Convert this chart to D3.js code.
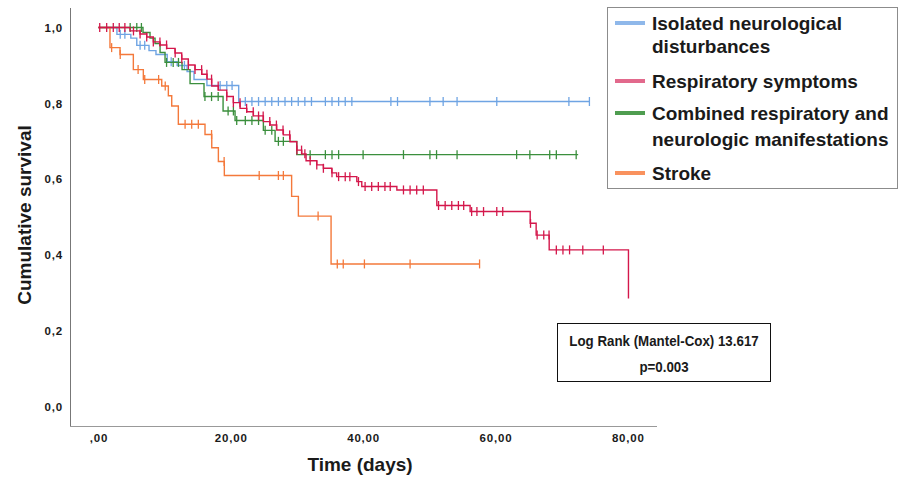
<!DOCTYPE html>
<html>
<head>
<meta charset="utf-8">
<script src="https://cdn.jsdelivr.net/npm/d3@7"></script>
<style>
	body { margin: 0; background: #fff; }
	text { font-family: "Liberation Sans", Arial, sans-serif; font-weight: bold; fill: #1a1a1a; }
</style>
</head>
<body>
<script>
// Kaplan-Meier steps: [time in days, survival after the drop]
const neuroSteps = [[0, 1], [2.8, 0.982], [4.9, 0.972], [5.8, 0.953], [7.65, 0.939], [8.7, 0.929], [10.4, 0.910], [11.9, 0.900], [13.4, 0.884], [14.45, 0.863], [16.4, 0.847], [21.2, 0.805]];
const neuroEnd = 74.2;
const neuroCensor = [3.3, 4.0, 6.3, 7.0, 11.0, 13.0, 18.4, 19.4, 20.2, 22.2, 23.2, 24.2, 25.2, 26.2, 27.2, 28.2, 29.2, 30.2, 31.2, 32.2, 34.3, 35.3, 36.3, 37.3, 38.3, 44.2, 45.2, 50.1, 52.1, 54.2, 60.2, 71.1, 74.2];

const respSteps = [[0, 1], [4.78, 0.991], [6.29, 0.983], [7.3, 0.975], [8.3, 0.962], [9.31, 0.954], [10.32, 0.945], [11.58, 0.933], [12.59, 0.917], [13.59, 0.901], [14.6, 0.889], [15.62, 0.877], [16.42, 0.864], [17.13, 0.846], [18.13, 0.835], [19.4, 0.818], [20.39, 0.802], [21.41, 0.787], [22.42, 0.778], [23.42, 0.767], [24.93, 0.752], [25.94, 0.743], [26.95, 0.730], [27.95, 0.717], [28.96, 0.699], [29.98, 0.677], [30.73, 0.667], [31.38, 0.649], [33.0, 0.638], [34.0, 0.629], [35.27, 0.617], [36.0, 0.607], [39.05, 0.594], [39.8, 0.581], [45.1, 0.572], [51.14, 0.531], [56.17, 0.515], [65.25, 0.484], [66.15, 0.453], [68.12, 0.414], [80.1, 0.286]];
const respEnd = 80.1;
const respCensor = [0.2, 1.25, 2.25, 3.15, 4.0, 5.3, 6.3, 7.3, 8.3, 9.3, 10.3, 11.6, 12.6, 13.6, 14.6, 15.6, 16.4, 17.1, 18.1, 19.4, 20.4, 21.4, 22.4, 23.4, 24.2, 24.9, 25.9, 26.9, 27.9, 28.9, 30.0, 30.7, 31.2, 32.0, 33.0, 34.0, 35.3, 36.3, 37.3, 38.0, 39.3, 40.3, 41.3, 42.3, 43.3, 44.1, 46.1, 47.1, 48.1, 49.1, 51.4, 52.4, 53.4, 54.4, 55.2, 56.4, 57.2, 58.2, 60.2, 61.1, 65.3, 66.3, 67.3, 68.1, 69.2, 70.2, 71.2, 73.2, 76.3];

const combSteps = [[0, 1], [6.74, 0.987], [7.8, 0.972], [8.56, 0.958], [9.32, 0.934], [10.07, 0.908], [12.64, 0.889], [13.85, 0.852], [15.96, 0.818], [18.84, 0.780], [20.65, 0.755], [24.93, 0.729], [26.7, 0.700], [29.98, 0.665]];
const combEnd = 72.5;
const combCensor = [4.8, 5.8, 6.5, 10.3, 11.3, 12.1, 16.1, 17.1, 18.1, 19.6, 20.4, 20.9, 22.2, 23.2, 24.2, 25.2, 26.2, 27.2, 27.95, 32.0, 34.3, 35.3, 36.3, 40.0, 46.1, 50.1, 51.1, 54.2, 63.2, 65.2, 68.2, 69.2, 72.2];

const strokeSteps = [[0, 1], [1.75, 0.947], [3.27, 0.929], [5.28, 0.889], [6.79, 0.863], [9.57, 0.846], [10.57, 0.820], [11.08, 0.793], [12.08, 0.745], [16.11, 0.718], [17.13, 0.683], [18.13, 0.647], [19.03, 0.610], [29.2, 0.555], [30.22, 0.503], [35.16, 0.377]];
const strokeEnd = 57.6;
const strokeCensor = [2.0, 3.3, 6.0, 7.0, 9.1, 10.1, 13.1, 14.1, 15.1, 17.1, 19.0, 24.3, 27.2, 27.95, 33.2, 36.1, 37.0, 40.2, 47.1, 57.6];

const groupNames = ['Isolated neurological|disturbances', 'Respiratory symptoms', 'Combined respiratory and|neurologic manifestations', 'Stroke'];
const lineColors = ['#6fa4e3', '#d4174b', '#3b8f3d', '#f4793b'];
const legendColors = ['#8fb8ea', '#e2698c', '#4f9d50', '#f9925e'];

const xTicks = [0, 20, 40, 60, 80];
const xTickLabels = [',00', '20,00', '40,00', '60,00', '80,00'];
const yTicks = [0, 0.2, 0.4, 0.6, 0.8, 1.0];
const yTickLabels = ['0,0', '0,2', '0,4', '0,6', '0,8', '1,0'];

const statLines = ['Log Rank (Mantel-Cox) 13.617', 'p=0.003'];

const width = 901, height = 477;

const svg = d3.select('body')
	.append('svg')
	.attr('width', width)
	.attr('height', height);

const x = d3.scaleLinear().domain([0, 80]).range([98.4, 627.8]);
const y = d3.scaleLinear().domain([0, 1]).range([407, 27.5]);

// frame lines of the plot (left and bottom only, like SPSS)
svg.append('line')
	.attr('x1', 70.5).attr('x2', 70.5)
	.attr('y1', 8).attr('y2', 426)
	.attr('stroke', '#777').attr('stroke-width', 1);
svg.append('line')
	.attr('x1', 70).attr('x2', 657)
	.attr('y1', 426.5).attr('y2', 426.5)
	.attr('stroke', '#999').attr('stroke-width', 1);

// axes
const xAxis = svg.append('g')
	.attr('transform', 'translate(0,429)')
	.call(d3.axisBottom(x).tickValues(xTicks).tickSize(0).tickPadding(5)
		.tickFormat((d, i) => xTickLabels[i]));
xAxis.select('.domain').remove();
xAxis.selectAll('text')
	.style('font-size', '11.5px')
	.style('letter-spacing', '0.8px')
	.style('font-family', '"Liberation Sans", Arial, sans-serif')
	.style('font-weight', 'bold')
	.attr('fill', '#1a1a1a');

const yAxis = svg.append('g')
	.attr('transform', 'translate(63,0)')
	.call(d3.axisLeft(y).tickValues(yTicks).tickSize(0).tickPadding(0)
		.tickFormat((d, i) => yTickLabels[i]));
yAxis.select('.domain').remove();
yAxis.selectAll('text')
	.style('font-size', '11.5px')
	.style('letter-spacing', '0.8px')
	.style('font-family', '"Liberation Sans", Arial, sans-serif')
	.style('font-weight', 'bold')
	.attr('fill', '#1a1a1a');

// axis titles
svg.append('text')
	.attr('x', 360).attr('y', 471)
	.attr('text-anchor', 'middle')
	.style('font-size', '19px')
	.text('Time (days)');
svg.append('text')
	.attr('transform', 'translate(31,215) rotate(-90)')
	.attr('text-anchor', 'middle')
	.style('font-size', '19px')
	.text('Cumulative survival');

// survival value at time t
function survAt(steps, t) {
	let s = steps[0][1];
	steps.forEach((p) => {
		if (p[0] <= t) s = p[1];
	});
	return s;
}

const groups = [
	{ steps: neuroSteps, end: neuroEnd, censor: neuroCensor, color: lineColors[0] },
	{ steps: respSteps, end: respEnd, censor: respCensor, color: lineColors[1] },
	{ steps: combSteps, end: combEnd, censor: combCensor, color: lineColors[2] },
	{ steps: strokeSteps, end: strokeEnd, censor: strokeCensor, color: lineColors[3] }
];

const stepLine = d3.line()
	.x(d => x(d[0]))
	.y(d => y(d[1]))
	.curve(d3.curveStepAfter);

// draw order: blue, green, orange, red on top
[0, 2, 3, 1].forEach((gi) => {
	const g = groups[gi];
	let pts = g.steps.slice();
	const last = pts[pts.length - 1];
	if (g.end > last[0]) pts.push([g.end, last[1]]);

	const layer = svg.append('g');
	layer.append('path')
		.attr('d', stepLine(pts))
		.attr('fill', 'none')
		.attr('stroke', g.color)
		.attr('stroke-width', 1.4);

	layer.selectAll('line')
		.data(g.censor)
		.enter()
		.append('line')
		.attr('x1', d => x(d))
		.attr('x2', d => x(d))
		.attr('y1', d => y(survAt(g.steps, d)) - 4.5)
		.attr('y2', d => y(survAt(g.steps, d)) + 4.5)
		.attr('stroke', g.color)
		.attr('stroke-width', 1.3);
});

// legend
const legend = svg.append('g');
legend.append('rect')
	.attr('x', 607.5).attr('y', 7.5)
	.attr('width', 290).attr('height', 181)
	.attr('fill', '#fff')
	.attr('stroke', '#8c8c8c').attr('stroke-width', 1);

const legendRows = [
	{ swatch: 23, base: [30, 53] },
	{ swatch: 81, base: [88] },
	{ swatch: 113, base: [120, 146] },
	{ swatch: 173, base: [180] }
];

groupNames.forEach((name, i) => {
	const row = legendRows[i];
	legend.append('line')
		.attr('x1', 615).attr('x2', 645)
		.attr('y1', row.swatch).attr('y2', row.swatch)
		.attr('stroke', legendColors[i])
		.attr('stroke-width', 4);
	name.split('|').forEach((part, j) => {
		legend.append('text')
			.attr('x', 652).attr('y', row.base[j])
			.style('font-size', '19px')
			.text(part);
	});
});

// log rank box
svg.append('rect')
	.attr('x', 557.5).attr('y', 323.5)
	.attr('width', 213).attr('height', 58)
	.attr('fill', '#fff')
	.attr('stroke', '#111').attr('stroke-width', 1);

// slightly condensed text, as in the original
statLines.forEach((t, i) => {
	svg.append('text')
		.attr('transform', `translate(664,${346 + i * 26}) scale(0.86,1)`)
		.attr('text-anchor', 'middle')
		.style('font-size', '15.5px')
		.text(t);
});
</script>
</body>
</html>
